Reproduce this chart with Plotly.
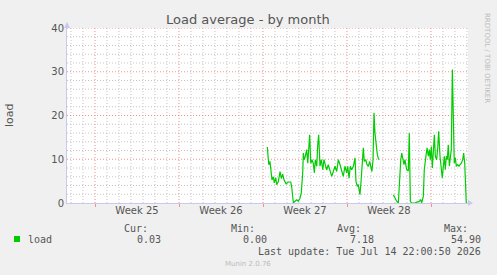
import plotly.graph_objects as go

# ---- data (time in days from start of Week 25, load values) ----
days = [14.36, 14.48, 14.58, 14.67, 14.75, 14.86, 14.94, 15.06, 15.14, 15.28, 15.42, 15.53, 15.64, 15.75,
        15.92, 16.11, 16.31, 16.39, 16.48, 16.53, 16.67, 16.81, 16.94, 17.08, 17.19, 17.31, 17.36, 17.44,
        17.53, 17.64, 17.73, 17.81, 17.89, 17.98, 18.08, 18.19, 18.28, 18.36, 18.48, 18.56, 18.64, 18.75,
        18.86, 18.98, 19.08, 19.19, 19.31, 19.44, 19.58, 19.73, 19.86, 20.0, 20.14, 20.28, 20.42, 20.56,
        20.69, 20.83, 20.97, 21.06, 21.17, 21.28, 21.39, 21.53, 21.67, 21.75, 21.86, 21.94, 22.08, 22.17,
        22.28, 22.36, 22.44, 22.56, 22.67, 22.78, 22.89, 23.0, 23.08, 23.17, 23.25, 23.33, 23.42, 23.53,
        23.64, 24.2,
        24.86, 25.0, 25.14, 25.28, 25.36, 25.48, 25.56, 25.64, 25.75, 25.83, 25.97, 26.11, 26.19, 26.28,
        26.39, 26.5, 26.67, 26.83, 27.03, 27.14, 27.22, 27.36, 27.44, 27.56, 27.67, 27.78, 27.86, 27.94,
        28.03, 28.11, 28.19, 28.28, 28.36, 28.47, 28.56, 28.64, 28.75, 28.86, 28.94, 29.03, 29.11, 29.19,
        29.28, 29.36, 29.44, 29.53, 29.61, 29.69, 29.78, 29.86, 29.94, 30.03, 30.11, 30.22, 30.33, 30.42,
        30.53, 30.64, 30.72, 30.81, 30.89, 30.94]
load = [12.8, 8.75, 9.5, 7.2, 5.3, 6.0, 4.6, 5.8, 4.2, 4.9, 7.2, 5.6, 6.6, 5.3,
        4.4, 4.8, 4.8, 3.7, 0.75, 0.0, 0.4, 0.75, 0.4, 1.1, 2.3, 6.9, 11.4, 9.9,
        10.7, 12.2, 9.1, 13.7, 15.6, 9.1, 9.9, 9.1, 6.9, 9.9, 8.4, 13.3, 15.6, 8.4,
        9.9, 7.6, 9.9, 8.75, 7.6, 8.75, 7.2, 6.1, 7.2, 8.4, 7.2, 9.9, 8.75, 7.6,
        6.1, 8.4, 6.9, 8.4, 5.7, 8.4, 7.6, 8.4, 10.3, 4.9, 3.8, 4.2, 1.9, 4.9,
        9.1, 12.6, 9.5, 9.9, 8.75, 8.4, 9.5, 8.0, 7.2, 9.9, 20.6, 16.0, 13.7, 11.0,
        9.9, None,
        1.9, 1.1, 0.4, 0.0, 5.3, 9.9, 11.4, 9.9, 8.75, 9.9, 7.6, 7.3, 16.0, 0.4,
        0.0, 0.0, 0.0, 0.2, 0.4, 0.8, 0.0, 1.5, 7.6, 10.3, 12.6, 10.7, 12.2, 9.9,
        12.9, 8.0, 11.4, 15.6, 10.7, 9.9, 12.6, 16.4, 10.7, 7.6, 5.7, 8.4, 10.7, 7.6,
        10.7, 9.9, 13.3, 8.4, 9.9, 12.2, 30.5, 13.7, 9.1, 10.3, 8.4, 8.75, 8.4, 8.75,
        9.1, 9.9, 11.4, 9.1, 1.5, 0.0]

week_labels = ["Week 25", "Week 26", "Week 27", "Week 28"]
week_centers = [3.5, 10.5, 17.5, 24.5]
week_bounds = [0, 7, 14, 21, 28]
day_grid = [d for d in range(-2, 32) if d % 7 != 0]
y_ticks = [0, 10, 20, 30, 40]
y_minor = [v for v in range(2, 40, 2) if v % 10 != 0]
stats_names = ["Cur:", "Min:", "Avg:", "Max:"]
stats_vals = ["0.03", "0.00", "7.18", "54.90"]

W, H = 497, 275
L, R, T, B = 67, 468, 28, 203
PW, PH = R - L, B - T


def px(x):
    return (x - L) / PW


def py(y):
    return (B - y) / PH


FONT = "DejaVu Sans"
MONO = "DejaVu Sans Mono"
GRAY = "#555555"
MAJOR = "#f09090"
MINOR = "#c4c4c4"
AXIS = "#c8c8f0"
DASH = "1px,2px"

fig = go.Figure()
fig.add_trace(go.Scatter(x=days, y=load, mode="lines", connectgaps=False,
                         line=dict(color="#00cc00", width=1.2), showlegend=False, hoverinfo="skip"))
fig.add_trace(go.Scatter(x=[days[0]], y=[None], xaxis="x2", showlegend=False, hoverinfo="skip"))

xr = [-(95 - L) / 12, (R - 95) / 12]

fig.update_layout(
    width=W, height=H,
    margin=dict(l=L, r=W - R, t=T, b=H - B),
    paper_bgcolor="#f0f0f0", plot_bgcolor="#ffffff",
    xaxis=dict(range=xr, tickvals=week_bounds, showticklabels=False, showgrid=False,
               ticks="outside", ticklen=3, tickcolor=MAJOR,
               showline=True, linecolor=AXIS, linewidth=1, zeroline=False, fixedrange=True),
    xaxis2=dict(range=xr, overlaying="x", side="bottom", tickvals=week_centers, ticktext=week_labels,
                showgrid=False, showline=False, zeroline=False, ticks="",
                tickfont=dict(family=FONT, size=10, color=GRAY)),
    yaxis=dict(range=[0, 40], tickvals=y_ticks, ticks="", showgrid=False,
               showline=True, linecolor=AXIS, linewidth=1, zeroline=False,
               tickfont=dict(family=FONT, size=10, color=GRAY)),
    font=dict(family=FONT, color=GRAY),
    showlegend=False,
)

shapes = []
for d in day_grid:
    shapes.append(dict(type="line", xref="x", yref="y domain", x0=d, x1=d, y0=0, y1=1, layer="below",
                       line=dict(color=MINOR, width=1, dash=DASH)))
for v in y_minor:
    shapes.append(dict(type="line", xref="x domain", yref="y", x0=0, x1=1, y0=v, y1=v, layer="below",
                       line=dict(color=MINOR, width=1, dash=DASH)))
for d in week_bounds:
    shapes.append(dict(type="line", xref="x", yref="y domain", x0=d, x1=d, y0=0, y1=1, layer="below",
                       line=dict(color=MAJOR, width=1, dash=DASH)))
for v in y_ticks[1:]:
    shapes.append(dict(type="line", xref="x domain", yref="y", x0=0, x1=1, y0=v, y1=v, layer="below",
                       line=dict(color=MAJOR, width=1, dash=DASH)))

anns = []
anns.append(dict(text="Load average - by month", x=px(248), y=py(19), xref="paper", yref="paper",
                 showarrow=False, font=dict(family=FONT, size=13, color="#555555"),
                 xanchor="center", yanchor="middle"))
anns.append(dict(text="load", x=px(9), y=py(115), xref="paper", yref="paper", textangle=-90,
                 showarrow=False, font=dict(family=FONT, size=11, color=GRAY),
                 xanchor="center", yanchor="middle"))
anns.append(dict(text="RRDTOOL / TOBI OETIKER", x=px(487), y=py(58), xref="paper", yref="paper",
                 textangle=90, showarrow=False, font=dict(family=FONT, size=7, color="#bbbbbb"),
                 xanchor="center", yanchor="middle"))
stat_right_name = [150, 257, 363, 470]
stat_right_val = [163, 269, 376, 483]
for n, v, xn, xv in zip(stats_names, stats_vals, stat_right_name, stat_right_val):
    anns.append(dict(text=n, x=px(xn), y=py(228), xref="paper", yref="paper", showarrow=False,
                     font=dict(family=MONO, size=10, color="#555555"), xanchor="right", yanchor="middle"))
    anns.append(dict(text=v, x=px(xv), y=py(239.5), xref="paper", yref="paper", showarrow=False,
                     font=dict(family=MONO, size=10, color="#555555"), xanchor="right", yanchor="middle"))
anns.append(dict(text="load", x=px(26), y=py(239.5), xref="paper", yref="paper", showarrow=False,
                 font=dict(family=MONO, size=10, color="#555555"), xanchor="left", yanchor="middle"))
anns.append(dict(text="Last update: Tue Jul 14 22:00:50 2026", x=px(483), y=py(251.5), xref="paper",
                 yref="paper", showarrow=False, font=dict(family=MONO, size=10, color="#555555"),
                 xanchor="right", yanchor="middle"))
anns.append(dict(text="Munin 2.0.76", x=px(248), y=py(264), xref="paper", yref="paper", showarrow=False,
                 font=dict(family=FONT, size=7, color="#bbbbbb"), xanchor="center", yanchor="middle"))
fig.update_layout(annotations=anns)

shapes += [
    dict(type="rect", xref="paper", yref="paper", x0=px(14), x1=px(20), y0=py(242), y1=py(236),
         fillcolor="#00cc00", line=dict(width=0)),
    dict(type="path", xref="paper", yref="paper",
         path=f"M {px(64)},{py(28)} L {px(70)},{py(28)} L {px(67)},{py(22)} Z",
         fillcolor=AXIS, line=dict(width=0)),
    dict(type="path", xref="paper", yref="paper",
         path=f"M {px(468)},{py(200)} L {px(468)},{py(206)} L {px(473)},{py(203)} Z",
         fillcolor=AXIS, line=dict(width=0)),
]
fig.update_layout(shapes=shapes)

fig.write_html("out.html")
